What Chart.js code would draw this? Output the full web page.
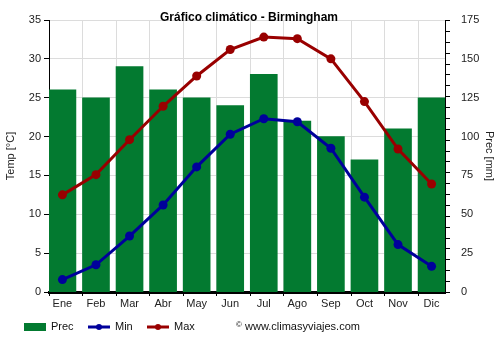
<!DOCTYPE html>
<html>
  <head>
    <meta charset="utf-8">
    <title>Gráfico climático - Birmingham</title>
    <script src="https://cdn.jsdelivr.net/npm/chart.js@4.4.1/dist/chart.umd.min.js"></script>
    <style>
      body { margin:0; background:#fff; }
      #wrap { width:500px; height:350px; position:relative; }
    </style>
  </head>
  <body>
    <div id="wrap"><canvas id="climChart"></canvas></div>
    <script>
      // monthly climate values
      var months  = ['Ene','Feb','Mar','Abr','May','Jun','Jul','Ago','Sep','Oct','Nov','Dic'];
      var prec    = [130, 125, 145, 130, 125, 120, 140, 110, 100, 85, 105, 125];
      var tempMin = [1.6, 3.5, 7.2, 11.2, 16.1, 20.3, 22.3, 21.9, 18.5, 12.2, 6.1, 3.3];
      var tempMax = [12.5, 15.1, 19.6, 23.9, 27.8, 31.2, 32.8, 32.6, 30.0, 24.5, 18.4, 13.9];

      var FONT = '"Liberation Sans", Arial, sans-serif';
      var GREEN = '#037a30', BLUE = '#00009b', RED = '#990000';

      function points(vals) {
        return vals.map(function(v, i) { return {x: i, y: v}; });
      }

      // title, legend row and the small marks on the precipitation axis
      var extras = {
        id: 'extras',
        afterDraw: function(chart) {
          var ctx = chart.ctx;
          var y1 = chart.scales.y1;
          ctx.save();
          ctx.strokeStyle = '#000';
          ctx.lineWidth = 1;
          for (var v = 0; v <= 175; v += 7) {
            var py = Math.round(y1.getPixelForValue(v)) + 0.5;
            ctx.beginPath();
            ctx.moveTo(y1.left, py);
            ctx.lineTo(y1.left + 5, py);
            ctx.stroke();
          }

          ctx.fillStyle = '#000';
          ctx.font = 'bold 12px ' + FONT;
          ctx.textAlign = 'center';
          ctx.textBaseline = 'middle';
          ctx.fillText('Gráfico climático - Birmingham', 249, 18);

          var ly = 327;
          ctx.textAlign = 'left';
          ctx.font = '11px ' + FONT;
          ctx.fillStyle = GREEN;
          ctx.fillRect(24, ly - 4, 22, 8);
          ctx.fillStyle = '#111';
          ctx.fillText('Prec', 51, ly);

          [[BLUE, 88, 'Min'], [RED, 147, 'Max']].forEach(function(it) {
            ctx.strokeStyle = it[0];
            ctx.fillStyle = it[0];
            ctx.lineWidth = 3;
            ctx.beginPath();
            ctx.moveTo(it[1], ly);
            ctx.lineTo(it[1] + 22, ly);
            ctx.stroke();
            ctx.beginPath();
            ctx.arc(it[1] + 11, ly, 3, 0, Math.PI * 2);
            ctx.fill();
            ctx.fillStyle = '#111';
            ctx.fillText(it[2], it[1] + 27, ly);
          });

          ctx.font = '8px ' + FONT;
          ctx.fillText('©', 236, ly - 2);
          ctx.font = '11px ' + FONT;
          ctx.fillText('www.climasyviajes.com', 245, ly);
          ctx.restore();
        }
      };

      new Chart(document.getElementById('climChart'), {
        type: 'bar',
        data: {
          datasets: [
            { type: 'line', label: 'Min', data: points(tempMin), yAxisID: 'y',
              borderColor: BLUE, backgroundColor: BLUE, borderWidth: 3,
              pointRadius: 4.5, pointBackgroundColor: BLUE, pointBorderWidth: 0, order: 1 },
            { type: 'line', label: 'Max', data: points(tempMax), yAxisID: 'y',
              borderColor: RED, backgroundColor: RED, borderWidth: 3,
              pointRadius: 4.5, pointBackgroundColor: RED, pointBorderWidth: 0, order: 2 },
            { type: 'bar', label: 'Prec', data: points(prec), yAxisID: 'y1',
              backgroundColor: GREEN, barThickness: 27, order: 3 }
          ]
        },
        options: {
          responsive: true,
          maintainAspectRatio: false,
          animation: false,
          layout: { padding: { top: 20, left: 0, right: 0, bottom: 0 } },
          plugins: { legend: { display: false }, tooltip: { enabled: false }, title: { display: false } },
          scales: {
            x: {
              type: 'linear', min: -0.4, max: 11.4, offset: false,
              afterBuildTicks: function(scale) {
                scale.ticks = months.map(function(m, i) { return {value: i - 0.4}; });
              },
              afterFit: function(scale) { scale.height = 58; },
              grid: { color: '#dcdcdc', offset: false, tickColor: '#000', tickLength: 4 },
              border: { color: '#000', width: 3 },
              ticks: {
                autoSkip: false, maxRotation: 0, padding: 1, labelOffset: 13.4,
                color: '#222', font: { family: FONT, size: 11 },
                callback: function(v, i) { return months[i]; }
              }
            },
            y: {
              position: 'left', min: 0, max: 35,
              afterFit: function(scale) { scale.width = 49; },
              grid: { color: '#dcdcdc', tickColor: '#000', tickLength: 5 },
              border: { color: '#000', width: 1 },
              ticks: { stepSize: 5, padding: 3, color: '#222', font: { family: FONT, size: 11 } },
              title: { display: true, text: 'Temp [°C]', color: '#222', font: { family: FONT, size: 11 } }
            },
            y1: {
              position: 'right', min: 0, max: 175,
              afterFit: function(scale) { scale.width = 55; },
              grid: { display: false },
              border: { display: true, color: '#000', width: 1 },
              ticks: { stepSize: 25, padding: 8, color: '#222', font: { family: FONT, size: 11 } },
              title: { display: true, text: 'Prec [mm]', color: '#222', font: { family: FONT, size: 11 } }
            }
          }
        },
        plugins: [extras]
      });
    </script>
  </body>
</html>
